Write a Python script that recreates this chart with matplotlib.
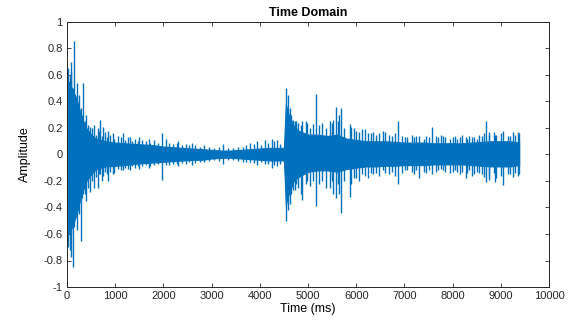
import matplotlib
matplotlib.use("Agg")
import matplotlib.pyplot as plt
from matplotlib.ticker import FuncFormatter

# Dense core envelope of the signal (time in ms, amplitude)
core_t = [0, 40, 100, 200, 300, 400, 500, 600, 800, 1000, 1200, 1400, 1600, 1800,
          2000, 2200, 2400, 2600, 2800, 3000, 3200, 3400, 3600, 3800, 4000, 4200,
          4400, 4500, 4540, 4600, 4700, 4800, 5000, 5200, 5400, 5600, 5800, 6000,
          6200, 6400, 6600, 6800, 7000, 7200, 7400, 7600, 7800, 8000, 8200, 8400,
          8600, 8800, 9000, 9200, 9380]
core_hi = [0.35, 0.55, 0.50, 0.42, 0.28, 0.20, 0.15, 0.12, 0.10, 0.09, 0.085, 0.08,
           0.075, 0.07, 0.06, 0.055, 0.05, 0.045, 0.04, 0.035, 0.03, 0.03, 0.035,
           0.04, 0.045, 0.05, 0.05, 0.05, 0.38, 0.30, 0.22, 0.18, 0.15, 0.15, 0.14,
           0.15, 0.12, 0.11, 0.10, 0.10, 0.10, 0.095, 0.09, 0.09, 0.09, 0.085, 0.085,
           0.085, 0.085, 0.09, 0.095, 0.10, 0.10, 0.10, 0.09]
core_lo = [-0.40, -0.60, -0.55, -0.45, -0.30, -0.20, -0.15, -0.11, -0.09, -0.085,
           -0.08, -0.07, -0.065, -0.06, -0.055, -0.05, -0.045, -0.04, -0.04,
           -0.03, -0.025, -0.025, -0.03, -0.035, -0.04, -0.045, -0.045, -0.045,
           -0.38, -0.30, -0.20, -0.17, -0.13, -0.12, -0.12, -0.13, -0.11, -0.10,
           -0.09, -0.09, -0.085, -0.085, -0.08, -0.08, -0.08, -0.075, -0.075, -0.075,
           -0.075, -0.08, -0.085, -0.09, -0.09, -0.09, -0.08]

# Individual tall spikes: time (ms), max and min amplitude
spike_t = [30, 60, 77, 85, 118, 145, 200, 250, 285, 340, 400, 470, 560, 640, 685,
           750, 850, 950, 1160, 1300, 1500, 1700, 1970, 2050, 2300, 2600, 3240,
           3800, 3950, 4100, 4250, 4350, 4540, 4580, 4620, 4680, 4750, 4870, 4980,
           5170, 5300, 5450, 5580, 5650, 5680, 5870, 5950, 6120, 6300, 6550, 6870,
           7050, 7300, 7570, 7800, 8010, 8280, 8450, 8690, 8750, 8880, 9050, 9200,
           9360]
spike_hi = [0.65, 0.60, 0.62, 0.70, 0.50, 0.86, 0.54, 0.45, 0.35, 0.54, 0.30, 0.21,
            0.22, 0.20, 0.26, 0.21, 0.18, 0.16, 0.16, 0.13, 0.13, 0.12, 0.16, 0.12,
            0.10, 0.09, 0.08, 0.09, 0.10, 0.11, 0.12, 0.11, 0.50, 0.45, 0.35, 0.26,
            0.25, 0.25, 0.24, 0.46, 0.24, 0.25, 0.36, 0.30, 0.35, 0.23, 0.20, 0.19,
            0.16, 0.18, 0.25, 0.13, 0.14, 0.21, 0.14, 0.13, 0.13, 0.13, 0.25, 0.17,
            0.15, 0.18, 0.14, 0.17]
spike_lo = [-0.70, -0.72, -0.77, -0.60, -0.85, -0.55, -0.57, -0.45, -0.65, -0.30,
            -0.35, -0.28, -0.25, -0.25, -0.15, -0.16, -0.20, -0.15, -0.12, -0.12,
            -0.11, -0.10, -0.19, -0.08, -0.09, -0.08, -0.07, -0.06, -0.08, -0.07,
            -0.10, -0.09, -0.50, -0.42, -0.37, -0.27, -0.22, -0.34, -0.20, -0.39,
            -0.20, -0.25, -0.33, -0.30, -0.44, -0.32, -0.18, -0.15, -0.14, -0.12,
            -0.22, -0.12, -0.18, -0.15, -0.12, -0.13, -0.18, -0.15, -0.21, -0.19,
            -0.21, -0.23, -0.15, -0.16]

# Small edge fluctuations around the core
fuzz_t = [320, 380, 430, 520, 600, 660, 720, 780, 830, 900, 980, 1050, 1120, 1200,
          1260, 1340, 1420, 1480, 1560, 1640, 1720, 1800, 1880, 2120, 2200, 2280,
          2380, 2460, 2540, 2650, 2750, 2850, 2950, 3050, 3150, 3350, 3450, 3550,
          3650, 3720, 3880, 4020, 4180, 4300, 4420,
          4640, 4720, 4800, 4850, 4950, 5050, 5100, 5230, 5380, 5500, 5520, 5620,
          5750, 5900, 6000, 6050, 6180, 6250, 6350, 6420, 6480, 6600, 6680, 6750,
          6800, 6950, 7020, 7150, 7200, 7250, 7400, 7450, 7500, 7650, 7700, 7750,
          7850, 7950, 8050, 8100, 8150, 8200, 8300, 8350, 8400, 8500, 8550, 8600,
          8650, 8750, 8850, 8900, 9000, 9150, 9250, 9300, 9380]
fuzz_hi = [0.30, 0.25, 0.22, 0.20, 0.15, 0.18, 0.14, 0.17, 0.13, 0.15, 0.12, 0.14,
           0.13, 0.11, 0.13, 0.10, 0.12, 0.10, 0.11, 0.10, 0.09, 0.11, 0.09, 0.09,
           0.08, 0.09, 0.07, 0.08, 0.07, 0.075, 0.06, 0.07, 0.06, 0.05, 0.055, 0.05,
           0.05, 0.055, 0.06, 0.075, 0.08, 0.07, 0.09, 0.10, 0.08,
           0.30, 0.25, 0.24, 0.22, 0.25, 0.20, 0.23, 0.22, 0.20, 0.24, 0.26, 0.25,
           0.20, 0.21, 0.18, 0.17, 0.19, 0.16, 0.17, 0.15, 0.16, 0.17, 0.15, 0.14,
           0.16, 0.14, 0.13, 0.15, 0.13, 0.14, 0.12, 0.14, 0.13, 0.14, 0.13, 0.15,
           0.13, 0.12, 0.14, 0.12, 0.13, 0.15, 0.12, 0.14, 0.13, 0.12, 0.15, 0.14,
           0.16, 0.15, 0.17, 0.15, 0.16, 0.14, 0.17, 0.15, 0.16]
fuzz_lo = [-0.33, -0.30, -0.25, -0.20, -0.17, -0.15, -0.20, -0.13, -0.15, -0.13,
           -0.14, -0.11, -0.12, -0.10, -0.11, -0.09, -0.10, -0.085, -0.09, -0.08,
           -0.09, -0.08, -0.075, -0.08, -0.07, -0.075, -0.065, -0.07, -0.06, -0.065,
           -0.055, -0.06, -0.05, -0.045, -0.05, -0.04, -0.045, -0.05, -0.055, -0.06,
           -0.065, -0.06, -0.07, -0.08, -0.075,
           -0.30, -0.27, -0.25, -0.30, -0.22, -0.24, -0.20, -0.22, -0.25, -0.20,
           -0.30, -0.22, -0.20, -0.22, -0.18, -0.20, -0.16, -0.18, -0.15, -0.14,
           -0.16, -0.14, -0.15, -0.13, -0.16, -0.14, -0.12, -0.13, -0.15, -0.12,
           -0.13, -0.14, -0.12, -0.13, -0.12, -0.11, -0.13, -0.14, -0.12, -0.13,
           -0.15, -0.13, -0.14, -0.12, -0.16, -0.13, -0.14, -0.15, -0.17, -0.16,
           -0.14, -0.18, -0.16, -0.15, -0.17, -0.14, -0.15]

x_ticks = list(range(0, 10001, 1000))
y_ticks = [-1, -0.8, -0.6, -0.4, -0.2, 0, 0.2, 0.4, 0.6, 0.8, 1]

color = "#0072BD"
plt.rcParams['font.family'] = ['Liberation Sans', 'DejaVu Sans']

fig = plt.figure(figsize=(5.74, 3.22), dpi=100)
ax = fig.add_axes([67/574, 1-287/322, 482/574, 265/322])

ax.fill_between(core_t, core_lo, core_hi, color=color, linewidth=0.8, edgecolor=color)
ax.vlines(fuzz_t, fuzz_lo, fuzz_hi, color=color, linewidth=1.0)
ax.vlines(spike_t, spike_lo, spike_hi, color=color, linewidth=1.0)

ax.set_xlim(0, 10000)
ax.set_ylim(-1, 1)
ax.set_xticks(x_ticks)
ax.set_yticks(y_ticks)
ax.yaxis.set_major_formatter(FuncFormatter(lambda v, p: f"{v:g}"))
ax.tick_params(direction='in', top=True, right=True, labelsize=8,
               length=3, width=0.6, colors='#262626', pad=3)
for s in ax.spines.values():
    s.set_linewidth(0.7)
    s.set_color('#262626')

ax.set_title("Time Domain", fontsize=9, fontweight='bold', pad=4)
ax.set_xlabel("Time (ms)", fontsize=9, labelpad=1)
ax.set_ylabel("Amplitude", fontsize=9, labelpad=9)

fig.savefig("out.png", dpi=100)
